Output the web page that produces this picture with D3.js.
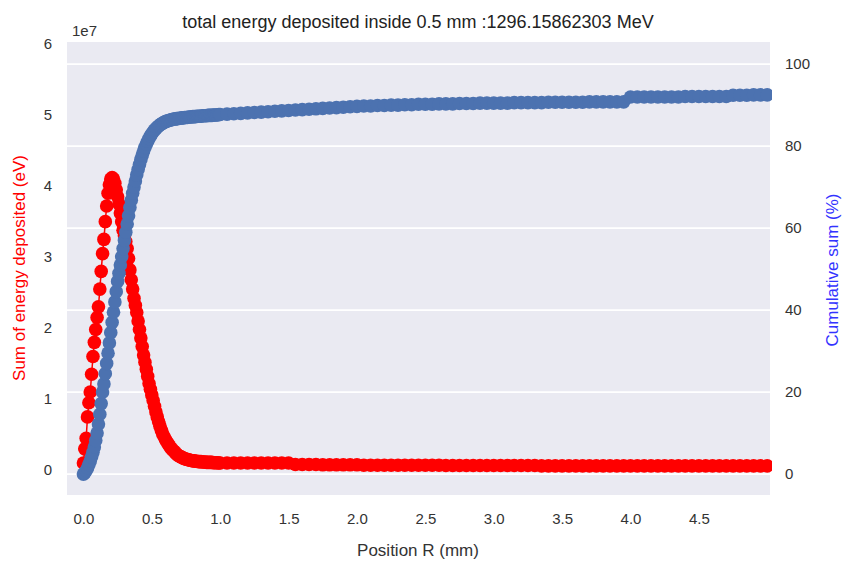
<!DOCTYPE html>
<html><head><meta charset="utf-8">
<script src="https://d3js.org/d3.v7.min.js"></script>
<style>body{margin:0;background:#fff}text{font-family:"Liberation Sans",Arial,sans-serif}</style>
</head><body><svg id="chart" width="860" height="573"></svg>
<script>
// energy deposit per bin (1e7 eV), step 0.01 mm from 0 to 1.0
const energyNear = [0.10,0.30,0.45,0.75,0.95,1.10,1.35,1.60,1.80,1.98,
  2.15,2.30,2.55,2.80,3.05,3.25,3.50,3.72,3.90,4.02,
  4.10,4.12,4.10,4.04,3.95,3.85,3.75,3.62,3.50,3.38,
  3.30,3.22,3.12,2.98,2.82,2.68,2.55,2.42,2.32,2.22,
  2.10,1.98,1.86,1.74,1.62,1.52,1.42,1.32,1.22,1.14,
  1.06,0.98,0.90,0.82,0.75,0.68,0.62,0.56,0.51,0.47,
  0.43,0.40,0.37,0.34,0.31,0.29,0.27,0.25,0.23,0.21,
  0.20,0.19,0.18,0.17,0.16,0.155,0.15,0.145,0.14,0.135,
  0.13,0.13,0.125,0.125,0.12,0.12,0.12,0.115,0.115,0.115,
  0.11,0.11,0.11,0.11,0.11,0.105,0.105,0.105,0.105,0.10,0.10];
// tail, step 0.05 mm from 1.05 to 5.0
const energyTail = [0.10,0.10,0.10,0.10,0.10,0.10,0.10,0.10,0.10,0.10,
  0.08,0.08,0.08,0.08,0.075,0.075,0.075,0.075,0.075,0.075,
  0.07,0.07,0.07,0.07,0.07,0.07,0.07,0.07,0.07,0.07,
  0.07,0.07,0.065,0.065,0.065,0.065,0.065,0.065,0.065,0.065,
  0.065,0.065,0.065,0.065,0.065,0.065,0.06,0.06,0.06,0.06,
  0.06,0.06,0.06,0.06,0.06,0.06,0.06,0.06,0.06,0.06,
  0.06,0.06,0.06,0.06,0.06,0.06,0.06,0.06,0.06,0.06,
  0.06,0.06,0.06,0.06,0.06,0.06,0.06,0.06,0.06,0.06];
// cumulative sum (%), same positions
const cumNear = [0,0.3,0.8,1.5,2.3,3.2,4.2,5.3,6.6,8.2,
  10.0,12.2,14.6,17.2,20.0,22.0,24.5,27.0,29.5,32.0,
  34.5,37.0,39.5,42.0,44.5,47.0,49.0,51.0,53.0,55.0,
  57.0,59.0,61.0,63.0,65.0,66.8,68.5,70.0,71.5,73.0,
  74.3,75.5,76.7,77.8,78.8,79.7,80.5,81.2,81.9,82.5,
  83.0,83.5,83.9,84.3,84.6,84.9,85.2,85.4,85.6,85.8,
  86.0,86.1,86.2,86.3,86.4,86.5,86.6,86.6,86.7,86.7,
  86.8,86.8,86.9,86.9,87.0,87.0,87.0,87.1,87.1,87.1,
  87.2,87.2,87.2,87.3,87.3,87.3,87.3,87.4,87.4,87.4,
  87.4,87.5,87.5,87.5,87.5,87.6,87.6,87.6,87.6,87.7,87.7];
const cumTail = [87.8,87.9,88.0,88.1,88.2,88.3,88.4,88.5,88.6,88.7,
  88.8,88.9,89.0,89.1,89.2,89.3,89.4,89.5,89.6,89.7,
  89.8,89.8,89.9,89.9,90.0,90.0,90.1,90.1,90.2,90.2,
  90.2,90.3,90.3,90.3,90.4,90.4,90.4,90.5,90.5,90.5,
  90.5,90.5,90.6,90.6,90.6,90.6,90.6,90.7,90.7,90.7,
  90.7,90.7,90.7,90.8,90.8,90.8,90.8,90.8,90.8,92.0,
  92.0,92.0,92.0,92.0,92.0,92.0,92.0,92.1,92.1,92.1,
  92.1,92.1,92.1,92.1,92.4,92.4,92.4,92.5,92.5,92.5];
const xTicks = [0,0.5,1,1.5,2,2.5,3,3.5,4,4.5];
const leftTicks = [0,1,2,3,4,5,6];
const rightTicks = [0,20,40,60,80,100];

const positions = energyNear.map((_, i) => +(i * 0.01).toFixed(2))
  .concat(energyTail.map((_, i) => +(1.05 + i * 0.05).toFixed(2)));
const energy = energyNear.concat(energyTail);
const cum = cumNear.concat(cumTail);

const L = 67, R = 770, T = 42, B = 495;
const svg = d3.select("#chart");
const x = d3.scaleLinear().domain([-0.12, 5.02]).range([L, R]);
const yL = d3.scaleLinear().domain([-0.35, 6.03]).range([B, T]);
const yR = d3.scaleLinear().domain([-5.1, 105.4]).range([B, T]);

svg.append("rect").attr("x", L).attr("y", T).attr("width", R - L).attr("height", B - T).attr("fill", "#EAEAF2");

// grid from the twin axis
svg.append("g").selectAll("line").data(rightTicks).enter().append("line")
  .attr("x1", L).attr("x2", R).attr("y1", d => yR(d)).attr("y2", d => yR(d))
  .attr("stroke", "#fff").attr("stroke-width", 1.6);

svg.append("clipPath").attr("id", "clip").append("rect")
  .attr("x", L).attr("y", T).attr("width", R - L + 2).attr("height", B - T);
const plot = svg.append("g").attr("clip-path", "url(#clip)");

const lineE = d3.line().x((d, i) => x(positions[i])).y(d => yL(d));
plot.append("path").datum(energy).attr("d", lineE).attr("fill", "none").attr("stroke", "red").attr("stroke-width", 1.5);
plot.append("g").selectAll("circle").data(energy).enter().append("circle")
  .attr("cx", (d, i) => x(positions[i])).attr("cy", d => yL(d)).attr("r", 6.8).attr("fill", "red");

const lineC = d3.line().x((d, i) => x(positions[i])).y(d => yR(d));
plot.append("path").datum(cum).attr("d", lineC).attr("fill", "none").attr("stroke", "#4C72B0").attr("stroke-width", 1.5);
plot.append("g").selectAll("circle").data(cum).enter().append("circle")
  .attr("cx", (d, i) => x(positions[i])).attr("cy", d => yR(d)).attr("r", 6.8).attr("fill", "#4C72B0");

// axes
const tickStyle = g => { g.select(".domain").remove(); g.selectAll("line").remove();
  g.selectAll("text").attr("fill", "#333").style("font-size", "15px"); };
svg.append("g").attr("transform", `translate(0,${B})`)
  .call(d3.axisBottom(x).tickValues(xTicks).tickFormat(d3.format(".1f")).tickPadding(12)).call(tickStyle);
svg.append("g").attr("transform", `translate(${L},0)`)
  .call(d3.axisLeft(yL).tickValues(leftTicks).tickFormat(d3.format("d")).tickPadding(9)).call(tickStyle);
svg.append("g").attr("transform", `translate(${R},0)`)
  .call(d3.axisRight(yR).tickValues(rightTicks).tickPadding(9)).call(tickStyle);

svg.append("text").attr("x", 72).attr("y", 36).attr("fill", "#333").style("font-size", "15px").text("1e7");
svg.append("text").attr("x", 418).attr("y", 28).attr("text-anchor", "middle").attr("fill", "#222")
  .style("font-size", "18px").text("total energy deposited inside 0.5 mm :1296.15862303 MeV");
svg.append("text").attr("x", 418).attr("y", 556).attr("text-anchor", "middle").attr("fill", "#333")
  .style("font-size", "17px").text("Position R (mm)");
svg.append("text").attr("transform", "translate(25,268) rotate(-90)").attr("text-anchor", "middle")
  .attr("fill", "red").style("font-size", "17px").text("Sum of energy deposited (eV)");
svg.append("text").attr("transform", "translate(838,270) rotate(-90)").attr("text-anchor", "middle")
  .attr("fill", "#3333ff").style("font-size", "17px").text("Cumulative sum (%)");
</script></body></html>
